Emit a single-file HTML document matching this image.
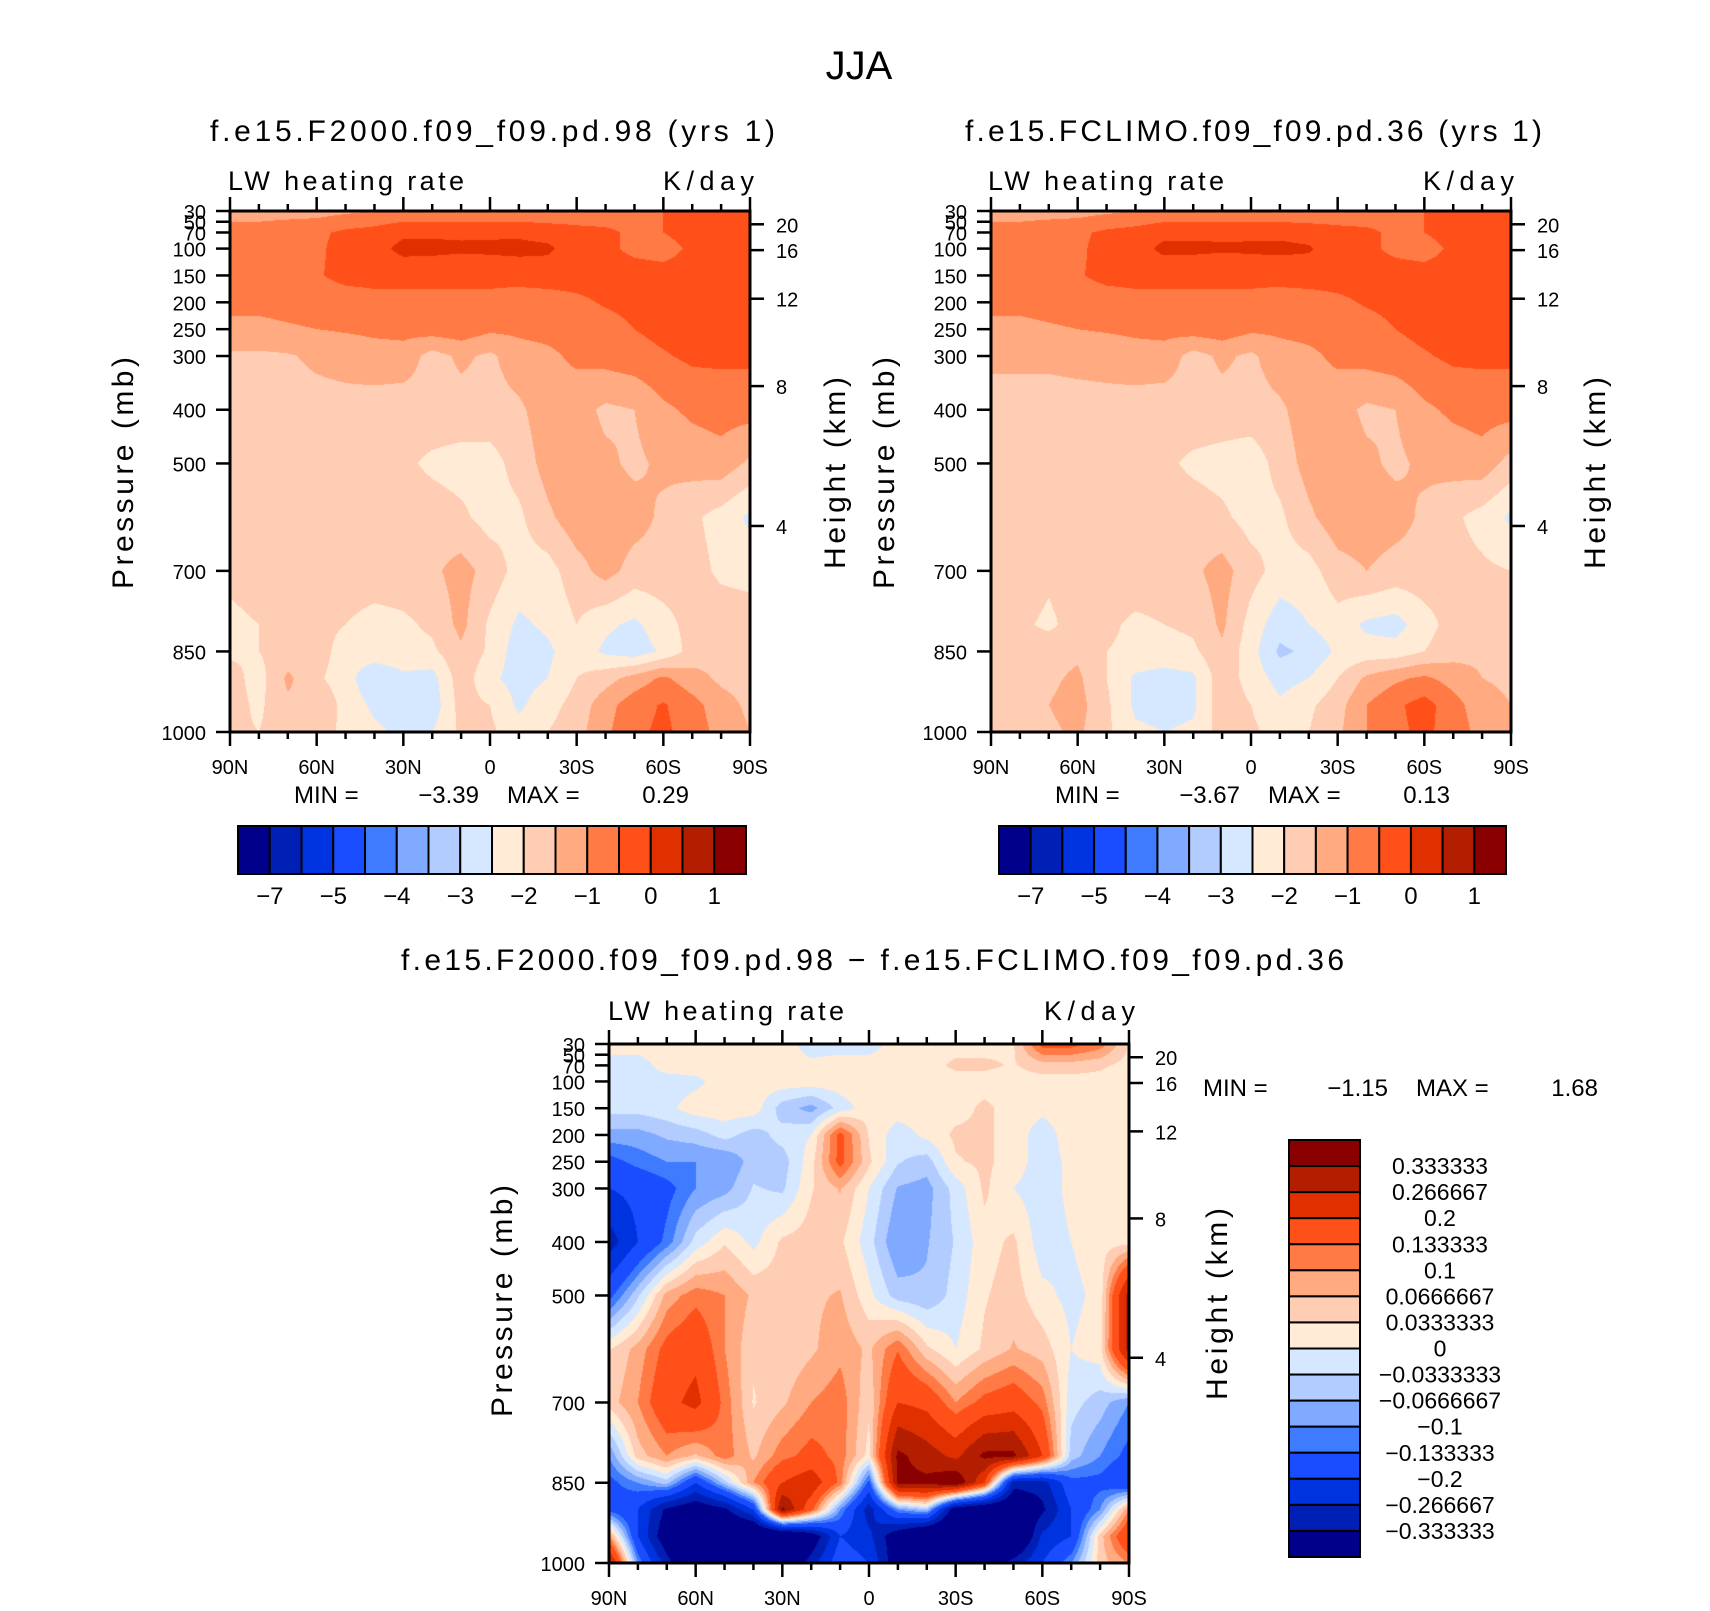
<!DOCTYPE html>
<html><head><meta charset="utf-8">
<style>
html,body{margin:0;padding:0;background:#fff;}
#wrap{position:relative;width:1710px;height:1611px;overflow:hidden;background:#fff;}
canvas{position:absolute;}
svg{position:absolute;left:0;top:0;}
text{font-family:"Liberation Sans",sans-serif;fill:#000;}
</style></head>
<body>
<div id="wrap">
<canvas id="c1"></canvas>
<canvas id="c2"></canvas>
<canvas id="c3"></canvas>
<svg id="svg" width="1710" height="1611" xmlns="http://www.w3.org/2000/svg"></svg>
</div>
<script>
const latLabels = ["90N","60N","30N","0","30S","60S","90S"];
const presLevels = [30,70,100,150,200,250,300,400,500,600,700,800,850,900,950,1000];
const presTickLabels = [30,50,70,100,150,200,250,300,400,500,700,850,1000];
const kmTicks = [4,8,12,16,20];
const levelsAbs = [-7,-6,-5,-4.5,-4,-3.5,-3,-2.5,-2,-1.5,-1,-0.5,0,0.5,1];
const levelsAbsLabels = ["−7","−5","−4","−3","−2","−1","0","1"];
const levelsDiff = [-0.333333,-0.266667,-0.2,-0.133333,-0.1,-0.0666667,-0.0333333,0,0.0333333,0.0666667,0.1,0.133333,0.2,0.266667,0.333333];
const levelsDiffLabels = ["−0.333333","−0.266667","−0.2","−0.133333","−0.1","−0.0666667","−0.0333333","0","0.0333333","0.0666667","0.1","0.133333","0.2","0.266667","0.333333"];
const palette = ["#00008a","#0020b5","#0033e0","#1a4dff","#3f7bff","#80aaff","#b3ccff","#d5e8ff","#ffebd6","#ffcdb3","#ffaa80","#ff7a45","#ff5019","#e03000","#b31e00","#8a0000"];
const minMax1 = ["MIN =","−3.39","MAX =","0.29"];
const minMax2 = ["MIN =","−3.67","MAX =","0.13"];
const minMaxDiff = ["MIN =","−1.15","MAX =","1.68"];

const dataA = [
[-1.2,-1.2,-1.2,-1.2,-1.1,-1.0,-0.9,-0.9,-0.9,-0.9,-0.9,-0.9,-0.8,-0.8,-0.7,-0.5,-0.3,-0.3,-0.3],
[-0.8,-0.8,-0.7,-0.6,-0.4,-0.3,-0.1,-0.1,-0.1,-0.1,-0.1,-0.2,-0.35,-0.4,-0.6,-0.5,-0.3,-0.3,-0.3],
[-0.8,-0.8,-0.75,-0.6,-0.3,-0.2,0.15,0.15,0.1,0.12,0.15,0.1,-0.3,-0.4,-0.6,-0.7,-0.4,-0.3,-0.3],
[-0.8,-0.8,-0.75,-0.55,-0.35,-0.3,-0.35,-0.4,-0.45,-0.4,-0.35,-0.3,-0.3,-0.3,-0.3,-0.3,-0.3,-0.3,-0.3],
[-0.9,-0.9,-0.85,-0.8,-0.75,-0.7,-0.65,-0.6,-0.55,-0.6,-0.7,-0.7,-0.6,-0.45,-0.35,-0.3,-0.3,-0.3,-0.3],
[-1.1,-1.1,-1.05,-1.0,-0.95,-0.9,-0.85,-0.75,-0.7,-0.9,-0.9,-0.85,-0.8,-0.7,-0.5,-0.35,-0.3,-0.3,-0.3],
[-1.6,-1.6,-1.55,-1.4,-1.3,-1.2,-1.2,-1.7,-1.4,-1.6,-1.2,-1.1,-0.9,-0.8,-0.7,-0.55,-0.4,-0.4,-0.4],
[-1.7,-1.7,-1.7,-1.7,-1.7,-1.75,-1.8,-1.7,-1.7,-1.7,-1.6,-1.2,-1.3,-1.6,-1.5,-1.1,-0.9,-0.8,-0.8],
[-1.7,-1.7,-1.7,-1.7,-1.7,-1.7,-1.9,-2.1,-2.2,-2.2,-1.8,-1.3,-1.2,-1.4,-1.6,-1.4,-1.3,-1.2,-1.6],
[-1.7,-1.7,-1.7,-1.7,-1.7,-1.7,-1.7,-1.75,-1.9,-2.2,-2.1,-1.6,-1.2,-1.2,-1.3,-1.6,-1.9,-2.2,-2.6],
[-1.9,-1.8,-1.75,-1.7,-1.7,-1.7,-1.7,-1.6,-1.3,-1.7,-2.2,-2.2,-1.7,-1.3,-1.7,-1.7,-1.8,-2.1,-2.2],
[-2.1,-2.0,-1.9,-1.8,-2.0,-2.2,-2.1,-1.9,-1.35,-2.1,-2.6,-2.4,-2.0,-2.4,-2.6,-2.2,-1.8,-1.7,-1.7],
[-2.1,-2.0,-1.8,-1.7,-2.3,-2.2,-2.2,-2.1,-1.6,-2.1,-2.8,-2.6,-2.2,-2.6,-2.8,-2.4,-1.8,-1.6,-1.7],
[-1.8,-2.2,-1.4,-1.9,-2.3,-2.9,-2.6,-2.7,-1.7,-2.4,-2.7,-2.5,-2.0,-1.7,-1.3,-0.9,-1.3,-1.6,-1.7],
[-1.8,-2.1,-1.6,-1.5,-2.2,-2.6,-2.8,-2.8,-1.8,-2.0,-2.6,-2.2,-1.8,-1.2,-0.7,-0.45,-0.8,-1.3,-1.6],
[-1.9,-2.0,-1.7,-1.6,-2.2,-2.4,-2.6,-2.5,-1.9,-1.9,-2.3,-2.0,-1.7,-1.1,-0.6,-0.4,-0.7,-1.2,-1.5]];

const dataB = [
[-1.2,-1.2,-1.2,-1.2,-1.1,-1.0,-0.9,-0.9,-0.9,-0.9,-0.9,-0.9,-0.8,-0.8,-0.7,-0.5,-0.3,-0.3,-0.3],
[-0.8,-0.8,-0.7,-0.6,-0.4,-0.3,-0.12,-0.12,-0.12,-0.12,-0.12,-0.2,-0.35,-0.4,-0.6,-0.5,-0.3,-0.3,-0.3],
[-0.8,-0.8,-0.75,-0.6,-0.3,-0.2,0.12,0.12,0.08,0.1,0.12,0.06,-0.3,-0.4,-0.6,-0.7,-0.4,-0.3,-0.3],
[-0.8,-0.8,-0.75,-0.55,-0.35,-0.3,-0.35,-0.4,-0.45,-0.4,-0.35,-0.3,-0.3,-0.3,-0.3,-0.3,-0.3,-0.3,-0.3],
[-0.9,-0.9,-0.85,-0.8,-0.75,-0.7,-0.65,-0.6,-0.55,-0.6,-0.7,-0.7,-0.6,-0.45,-0.35,-0.3,-0.3,-0.3,-0.3],
[-1.1,-1.1,-1.05,-1.0,-0.95,-0.9,-0.85,-0.75,-0.7,-0.9,-0.9,-0.85,-0.8,-0.7,-0.5,-0.35,-0.3,-0.3,-0.3],
[-1.4,-1.4,-1.4,-1.35,-1.3,-1.2,-1.2,-1.7,-1.4,-1.6,-1.2,-1.1,-0.9,-0.8,-0.7,-0.55,-0.4,-0.4,-0.4],
[-1.7,-1.7,-1.7,-1.7,-1.7,-1.75,-1.8,-1.7,-1.7,-1.7,-1.6,-1.2,-1.3,-1.6,-1.5,-1.1,-0.9,-0.8,-0.8],
[-1.7,-1.7,-1.7,-1.7,-1.7,-1.7,-1.9,-2.1,-2.2,-2.3,-1.8,-1.3,-1.2,-1.4,-1.6,-1.4,-1.3,-1.2,-1.7],
[-1.7,-1.7,-1.7,-1.7,-1.7,-1.7,-1.7,-1.75,-1.9,-2.2,-2.1,-1.6,-1.2,-1.2,-1.3,-1.6,-1.9,-2.2,-2.6],
[-1.8,-1.7,-1.9,-1.7,-1.7,-1.7,-1.7,-1.6,-1.3,-1.8,-2.2,-2.2,-1.7,-1.5,-1.7,-1.7,-1.8,-1.9,-2.0],
[-1.8,-1.9,-2.1,-1.8,-1.9,-2.1,-2.0,-1.9,-1.4,-2.2,-2.8,-2.5,-2.2,-2.6,-2.7,-2.2,-1.8,-1.6,-1.6],
[-1.7,-1.8,-1.7,-1.6,-2.0,-2.1,-2.2,-2.1,-1.6,-2.3,-3.1,-2.9,-2.4,-2.3,-2.3,-2.0,-1.7,-1.6,-1.6],
[-1.8,-1.6,-1.6,-1.4,-2.0,-2.6,-2.7,-2.6,-1.7,-2.2,-2.7,-2.5,-2.0,-1.4,-1.1,-0.9,-1.2,-1.5,-1.6],
[-1.8,-1.7,-1.5,-1.3,-1.9,-2.6,-2.7,-2.6,-1.7,-2.0,-2.4,-2.1,-1.7,-1.0,-0.6,-0.3,-0.8,-1.3,-1.5],
[-1.9,-1.8,-1.6,-1.4,-1.9,-2.4,-2.5,-2.4,-1.8,-1.9,-2.2,-2.0,-1.6,-1.0,-0.6,-0.4,-0.7,-1.2,-1.5]];

const dataDiff = [
[0.02,0.02,0.02,0.02,0.02,0.02,0.02,-0.02,-0.02,-0.02,0.02,0.02,0.02,0.02,0.03,0.15,0.15,0.12,0.03],
[-0.02,-0.02,0.02,0.02,0.02,0.02,0.02,0.01,0.02,0.02,0.02,0.02,0.04,0.04,0.03,0.05,0.05,0.04,0.02],
[-0.02,-0.02,-0.02,-0.01,0.02,0.02,0.02,0.02,0.02,0.03,0.02,0.02,0.02,0.02,0.02,0.02,0.02,0.02,0.02],
[-0.02,-0.02,-0.01,0.02,0.02,0.02,-0.05,-0.08,-0.02,0.02,0.02,0.02,0.02,0.04,0.02,0.01,0.02,0.02,0.02],
[-0.08,-0.08,-0.06,-0.05,-0.02,-0.05,-0.02,0.0,0.15,0.03,-0.02,0.01,0.04,0.04,0.02,-0.02,0.02,0.03,0.02],
[-0.15,-0.12,-0.1,-0.1,-0.1,-0.05,-0.05,0.02,0.15,0.04,-0.03,-0.05,0.03,0.04,0.02,-0.02,0.01,0.03,0.02],
[-0.2,-0.18,-0.15,-0.1,-0.08,-0.03,-0.04,0.03,0.07,0.0,-0.07,-0.08,-0.02,0.04,0.0,-0.02,0.01,0.02,0.02],
[-0.3,-0.2,-0.12,-0.02,0.03,-0.01,0.04,0.05,0.04,-0.02,-0.1,-0.07,-0.03,0.02,0.04,-0.02,0.0,0.02,0.02],
[-0.15,-0.04,0.08,0.12,0.1,0.06,0.05,0.06,0.07,0.01,-0.05,-0.06,-0.02,0.03,0.05,0.01,-0.01,0.01,0.3],
[0.03,0.08,0.15,0.18,0.1,0.04,0.04,0.06,0.09,0.06,0.13,0.04,0.0,0.04,0.07,0.05,0.0,0.02,0.3],
[0.05,0.1,0.18,0.22,0.12,0.03,0.06,0.1,0.12,0.04,0.2,0.18,0.1,0.15,0.17,0.12,-0.02,-0.05,-0.1],
[-0.1,0.05,0.1,0.06,0.12,0.06,0.12,0.15,0.12,0.02,0.35,0.3,0.25,0.35,0.35,0.2,-0.05,-0.1,-0.15],
[-0.15,-0.1,-0.05,-0.2,-0.05,0.1,0.2,0.25,0.12,-0.15,0.35,0.35,0.4,0.2,-0.3,-0.3,-0.15,-0.15,-0.2],
[-0.15,-0.2,-0.35,-0.4,-0.35,-0.2,0.35,0.15,-0.1,-0.3,-0.1,-0.05,-0.4,-0.45,-0.45,-0.35,-0.2,-0.1,0.1],
[0.1,-0.2,-0.4,-0.5,-0.5,-0.5,-0.5,-0.4,-0.2,-0.25,-0.4,-0.5,-0.5,-0.5,-0.5,-0.25,-0.2,0.05,0.2],
[0.3,-0.1,-0.3,-0.5,-0.5,-0.4,-0.45,-0.3,-0.15,-0.2,-0.4,-0.45,-0.5,-0.4,-0.3,-0.2,-0.1,0.05,0.1]];

const SVGNS="http://www.w3.org/2000/svg";
const svg=document.getElementById('svg');
function mk(tag,attrs,parent){const e=document.createElementNS(SVGNS,tag);for(const k in attrs)e.setAttribute(k,attrs[k]);(parent||svg).appendChild(e);return e;}
function txt(s,x,y,size,anchor,parent,extra){const t=mk('text',Object.assign({x:x,y:y,'font-size':size,'text-anchor':anchor||'start'},extra||{}),parent);t.textContent=s;return t;}

function heightToP(h){return h<=11?1013.25*Math.pow(1-h/44.3308,5.25588):226.32*Math.exp(-(h-11)/6.3416);}
function colorIdx(v,levels){let i=0;while(i<levels.length&&v>=levels[i])i++;return i;}

function drawField(canvasId,data,levels,X,Y,W,H){
  const c=document.getElementById(canvasId);
  c.width=W;c.height=H;c.style.left=X+'px';c.style.top=Y+'px';
  const ctx=c.getContext('2d');const img=ctx.createImageData(W,H);
  const rgb=palette.map(h=>[parseInt(h.substr(1,2),16),parseInt(h.substr(3,2),16),parseInt(h.substr(5,2),16)]);
  const nc=data[0].length-1;
  for(let py=0;py<H;py++){
    const p=30+(py+0.5)/H*970;
    let i=0;while(i<presLevels.length-2&&p>presLevels[i+1])i++;
    const t=(p-presLevels[i])/(presLevels[i+1]-presLevels[i]);
    for(let px=0;px<W;px++){
      const f=(px+0.5)/W*nc;let j=Math.min(Math.floor(f),nc-1);const s=f-j;
      const v=(1-t)*((1-s)*data[i][j]+s*data[i][j+1])+t*((1-s)*data[i+1][j]+s*data[i+1][j+1]);
      const col=rgb[colorIdx(v,levels)];const o=(py*W+px)*4;
      img.data[o]=col[0];img.data[o+1]=col[1];img.data[o+2]=col[2];img.data[o+3]=255;
    }
  }
  ctx.putImageData(img,0,0);
}

function axes(name,X,Y,W,H,fs){
  const g=mk('g',{});
  
  
  const py=p=>Y+(p-30)/970*H;
  for(let k=0;k<=18;k++){
    const x=X+k/18*W;const major=k%3===0;const L=major?14:7;
    mk('line',{x1:x,y1:Y+H,x2:x,y2:Y+H+L,stroke:'#000','stroke-width':2.5},g);
    mk('line',{x1:x,y1:Y,x2:x,y2:Y-L,stroke:'#000','stroke-width':2.5},g);
  }
  latLabels.forEach((l,k)=>{
    const t=txt(l,X+k*W/6,Y+H+42,fs,'middle',g);
    
    
  });
  presTickLabels.forEach(p=>{
    const y=py(p);
    mk('line',{x1:X,y1:y,x2:X-14,y2:y,stroke:'#000','stroke-width':2.5},g);
    const t=txt(String(p),X-24,y+8,fs,'end',g);
    
    
  });
  kmTicks.forEach(h=>{
    const y=py(heightToP(h));
    mk('line',{x1:X+W,y1:y,x2:X+W+14,y2:y,stroke:'#000','stroke-width':2.5},g);
    const t=txt(String(h),X+W+26,y+8,fs,'start',g);
    
    
  });
  mk('rect',{x:X,y:Y,width:W,height:H,fill:'none',stroke:'#000','stroke-width':3},g);
}

function hbar(name,X,Y,W,H,labels){
  const g=mk('g',{});
  
  
  const bw=W/16;
  palette.forEach((c,i)=>{const r=mk('rect',{x:X+i*bw,y:Y,width:bw,height:H,fill:c,stroke:'#000','stroke-width':2},g);
    });
  labels.forEach((l,k)=>{txt(l,X+(2*k+1)*bw,Y+H+30,24,'middle',g);});
}

function minMax(name,vals,X,Y){
  const g=mk('g',{});
  
  
  txt(vals[0],X,Y,24,'start',g);
  txt(vals[1],X+185,Y,24,'end',g);
  txt(vals[2],X+213,Y,24,'start',g);
  txt(vals[3],X+395,Y,24,'end',g);
}

const P1={X:230,Y:211,W:520,H:521};
const P2={X:991,Y:211,W:520,H:521};
const P3={X:609,Y:1044,W:520,H:519};
drawField('c1',dataA,levelsAbs,P1.X,P1.Y,P1.W,P1.H);
drawField('c2',dataB,levelsAbs,P2.X,P2.Y,P2.W,P2.H);
drawField('c3',dataDiff,levelsDiff,P3.X,P3.Y,P3.W,P3.H);
axes('panel-f2000',P1.X,P1.Y,P1.W,P1.H,20);
axes('panel-fclimo',P2.X,P2.Y,P2.W,P2.H,20);
axes('panel-difference',P3.X,P3.Y,P3.W,P3.H,20);

let t;
t=txt('JJA',859,79,40,'middle');

t=txt('f.e15.F2000.f09_f09.pd.98 (yrs 1)',210,141,30,'start',null,{textLength:565});

t=txt('f.e15.FCLIMO.f09_f09.pd.36 (yrs 1)',965,141,30,'start',null,{textLength:577});

t=txt('f.e15.F2000.f09_f09.pd.98 − f.e15.FCLIMO.f09_f09.pd.36',401,970,30,'start',null,{textLength:943});


[[228,190,663],[988,190,1423],[608,1020,1044]].forEach(a=>{
  t=txt('LW heating rate',a[0],a[1],27,'start',null,{textLength:236});
  
  t=txt('K/day',a[2],a[1],27,'start',null,{textLength:91});
  
});
[[123,473],[884,473],[502,1301]].forEach(a=>{
  t=txt('Pressure  (mb)',0,0,30,'middle',null,{transform:`translate(${a[0]+10},${a[1]}) rotate(-90)`,textLength:232});
  
});
[[835,473],[1595,473],[1217,1304]].forEach(a=>{
  t=txt('Height  (km)',0,0,30,'middle',null,{transform:`translate(${a[0]+10},${a[1]}) rotate(-90)`,textLength:192});
  
});
minMax('min-max-1',minMax1,294,803);
minMax('min-max-2',minMax2,1055,803);
minMax('min-max-diff',minMaxDiff,1203,1096);

hbar('colorbar-1',238,826,508,48,levelsAbsLabels);
hbar('colorbar-2',999,826,507,48,levelsAbsLabels);

const vg=mk('g',{});


const VX=1289,VY=1140,VW=71,VH=417,bh=VH/16;
palette.slice().reverse().forEach((c,i)=>{mk('rect',{x:VX,y:VY+i*bh,width:VW,height:bh,fill:c,stroke:'#000','stroke-width':2},vg);});
levelsDiffLabels.slice().reverse().forEach((l,k)=>{txt(l,1440,VY+(k+1)*bh+8,23,'middle',vg);});
</script>
</body></html>
